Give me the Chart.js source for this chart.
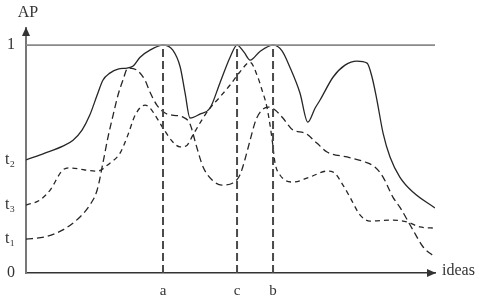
<!DOCTYPE html>
<html>
<head>
<meta charset="utf-8">
<script src="https://cdn.jsdelivr.net/npm/chart.js@4"></script>
<style>
  html, body { margin: 0; padding: 0; background: #fff; }
</style>
</head>
<body>
<canvas id="apChart" width="481" height="306"></canvas>
<script>
// ideas axis runs 0..100, AP axis 0..1
const t2X = [0, 4.6, 9.0, 11.5, 13.7, 15.6, 17.4, 18.8, 20.5, 22.5, 24.7, 26.2, 27.9, 30.3, 33.5, 35.9, 37.7, 38.9, 40.1, 42.5, 45.0, 47.4, 49.9, 51.6, 53.3, 54.8, 57.2, 60.4, 62.6, 64.5, 67.0, 68.9, 70.7, 71.9, 75.1, 78.0, 80.9, 83.4, 84.6, 85.8, 87.3, 89.0, 91.4, 94.6, 100];
const t2Y = [0.496, 0.526, 0.557, 0.583, 0.627, 0.693, 0.781, 0.846, 0.877, 0.895, 0.899, 0.908, 0.947, 0.978, 1.0, 0.978, 0.904, 0.789, 0.680, 0.697, 0.724, 0.833, 0.947, 1.0, 0.969, 0.934, 0.972, 1.0, 0.975, 0.904, 0.789, 0.662, 0.724, 0.759, 0.860, 0.912, 0.930, 0.921, 0.860, 0.759, 0.614, 0.509, 0.421, 0.355, 0.285];

const t3X = [0, 3.4, 5.9, 9.0, 10.8, 14.4, 17.4, 20.5, 23.0, 24.9, 26.7, 29.1, 30.3, 32.0, 33.5, 35.9, 37.7, 39.4, 40.8, 43.3, 45.0, 47.4, 49.9, 52.3, 54.8, 56.5, 57.7, 58.9, 60.1, 60.9, 62.1, 65.3, 69.4, 73.6, 75.1, 77.5, 79.2, 81.7, 84.1, 89.7, 93.2, 96.3, 100];
const t3Y = [0.298, 0.320, 0.364, 0.452, 0.461, 0.452, 0.447, 0.482, 0.526, 0.605, 0.693, 0.737, 0.724, 0.680, 0.636, 0.575, 0.553, 0.561, 0.605, 0.680, 0.724, 0.772, 0.825, 0.882, 0.925, 0.868, 0.803, 0.728, 0.596, 0.482, 0.430, 0.399, 0.421, 0.447, 0.443, 0.386, 0.333, 0.254, 0.228, 0.232, 0.224, 0.202, 0.197];

const t1X = [0, 4.6, 9.0, 13.2, 15.6, 17.4, 18.8, 20.0, 21.3, 22.5, 23.7, 24.9, 27.1, 29.1, 30.3, 32.0, 34.0, 35.7, 38.4, 40.1, 41.6, 43.3, 45.5, 47.9, 50.6, 52.3, 53.5, 54.8, 56.2, 57.7, 59.2, 60.9, 62.8, 65.3, 68.2, 71.1, 73.6, 78.5, 82.9, 85.3, 87.3, 89.7, 91.4, 94.6, 97.1, 100];
const t1Y = [0.149, 0.158, 0.189, 0.246, 0.298, 0.364, 0.482, 0.592, 0.693, 0.781, 0.846, 0.899, 0.890, 0.846, 0.794, 0.737, 0.702, 0.693, 0.684, 0.654, 0.561, 0.465, 0.408, 0.386, 0.395, 0.430, 0.496, 0.583, 0.671, 0.715, 0.728, 0.715, 0.680, 0.627, 0.614, 0.570, 0.531, 0.509, 0.487, 0.465, 0.421, 0.333, 0.289, 0.189, 0.114, 0.070];

const yTicks = [0, 0.149, 0.298, 0.496, 1];
const yTickLabels = ["0", "t\u2081", "t\u2083", "t\u2082", "1"];
const markX = [33.5, 51.6, 60.4];
const markLabels = ["a", "c", "b"];
const xTitle = "ideas";
const yTitle = "AP";

const serif = '"Liberation Serif", "DejaVu Serif", serif';

function pts(xs, ys) {
  return xs.map((x, i) => ({ x: x, y: ys[i] }));
}

const curveStyle = {
  borderColor: "#262626",
  borderWidth: 1.3,
  pointRadius: 0,
  fill: false,
  cubicInterpolationMode: "monotone",
};

const datasets = [
  {
    data: [{ x: 0, y: 1 }, { x: 100, y: 1 }],
    borderColor: "#8a8a8a",
    borderWidth: 1.6,
    pointRadius: 0,
  },
];
markX.forEach((m) => {
  datasets.push({
    data: [{ x: m, y: 0 }, { x: m, y: 1 }],
    borderColor: "#4a4a4a",
    borderWidth: 2,
    borderDash: [8, 4],
    pointRadius: 0,
  });
});
datasets.push(Object.assign({ data: pts(t2X, t2Y) }, curveStyle));
datasets.push(Object.assign({ data: pts(t3X, t3Y), borderDash: [5, 4] }, curveStyle));
datasets.push(Object.assign({ data: pts(t1X, t1Y), borderDash: [7, 4] }, curveStyle));

const axisDecor = {
  id: "axisDecor",
  afterDraw(chart) {
    const ctx = chart.ctx;
    const x = chart.scales.x;
    const y = chart.scales.y;
    ctx.save();
    ctx.fillStyle = "#333";
    // arrow heads
    ctx.beginPath();
    ctx.moveTo(x.right + 1, y.bottom);
    ctx.lineTo(x.right - 8, y.bottom - 4);
    ctx.lineTo(x.right - 8, y.bottom + 4);
    ctx.closePath();
    ctx.fill();
    ctx.beginPath();
    ctx.moveTo(x.left, y.top - 1);
    ctx.lineTo(x.left - 4, y.top + 8);
    ctx.lineTo(x.left + 4, y.top + 8);
    ctx.closePath();
    ctx.fill();
    ctx.font = "16px " + serif;
    ctx.textBaseline = "middle";
    ctx.textAlign = "center";
    ctx.fillText(yTitle, x.left + 2, y.top - 15);
    ctx.textAlign = "left";
    ctx.fillText(xTitle, x.right + 7, y.bottom - 2);
    ctx.restore();
  },
};

new Chart(document.getElementById("apChart"), {
  type: "line",
  data: { datasets: datasets },
  options: {
    responsive: false,
    animation: false,
    layout: { padding: { top: 28, right: 46, left: 0, bottom: 0 } },
    plugins: { legend: { display: false }, tooltip: { enabled: false } },
    scales: {
      x: {
        type: "linear",
        min: 0,
        max: 100,
        afterFit: (s) => { s.height = 33; },
        afterBuildTicks: (s) => { s.ticks = markX.map((v) => ({ value: v })); },
        ticks: {
          autoSkip: false,
          padding: 9,
          color: "#333",
          font: { family: serif, size: 15 },
          callback: (v, i) => markLabels[i],
        },
        grid: { display: false, drawTicks: false },
        border: { color: "#333", width: 1.5 },
      },
      y: {
        min: 0,
        max: 1.075,
        afterFit: (s) => { s.width = 26; },
        afterBuildTicks: (s) => { s.ticks = yTicks.map((v) => ({ value: v })); },
        ticks: {
          autoSkip: false,
          padding: 11,
          color: "#333",
          font: { family: serif, size: 16 },
          callback: (v, i) => yTickLabels[i],
        },
        grid: { display: false, drawTicks: false },
        border: { color: "#777", width: 2 },
      },
    },
  },
  plugins: [axisDecor],
});
</script>
</body>
</html>
